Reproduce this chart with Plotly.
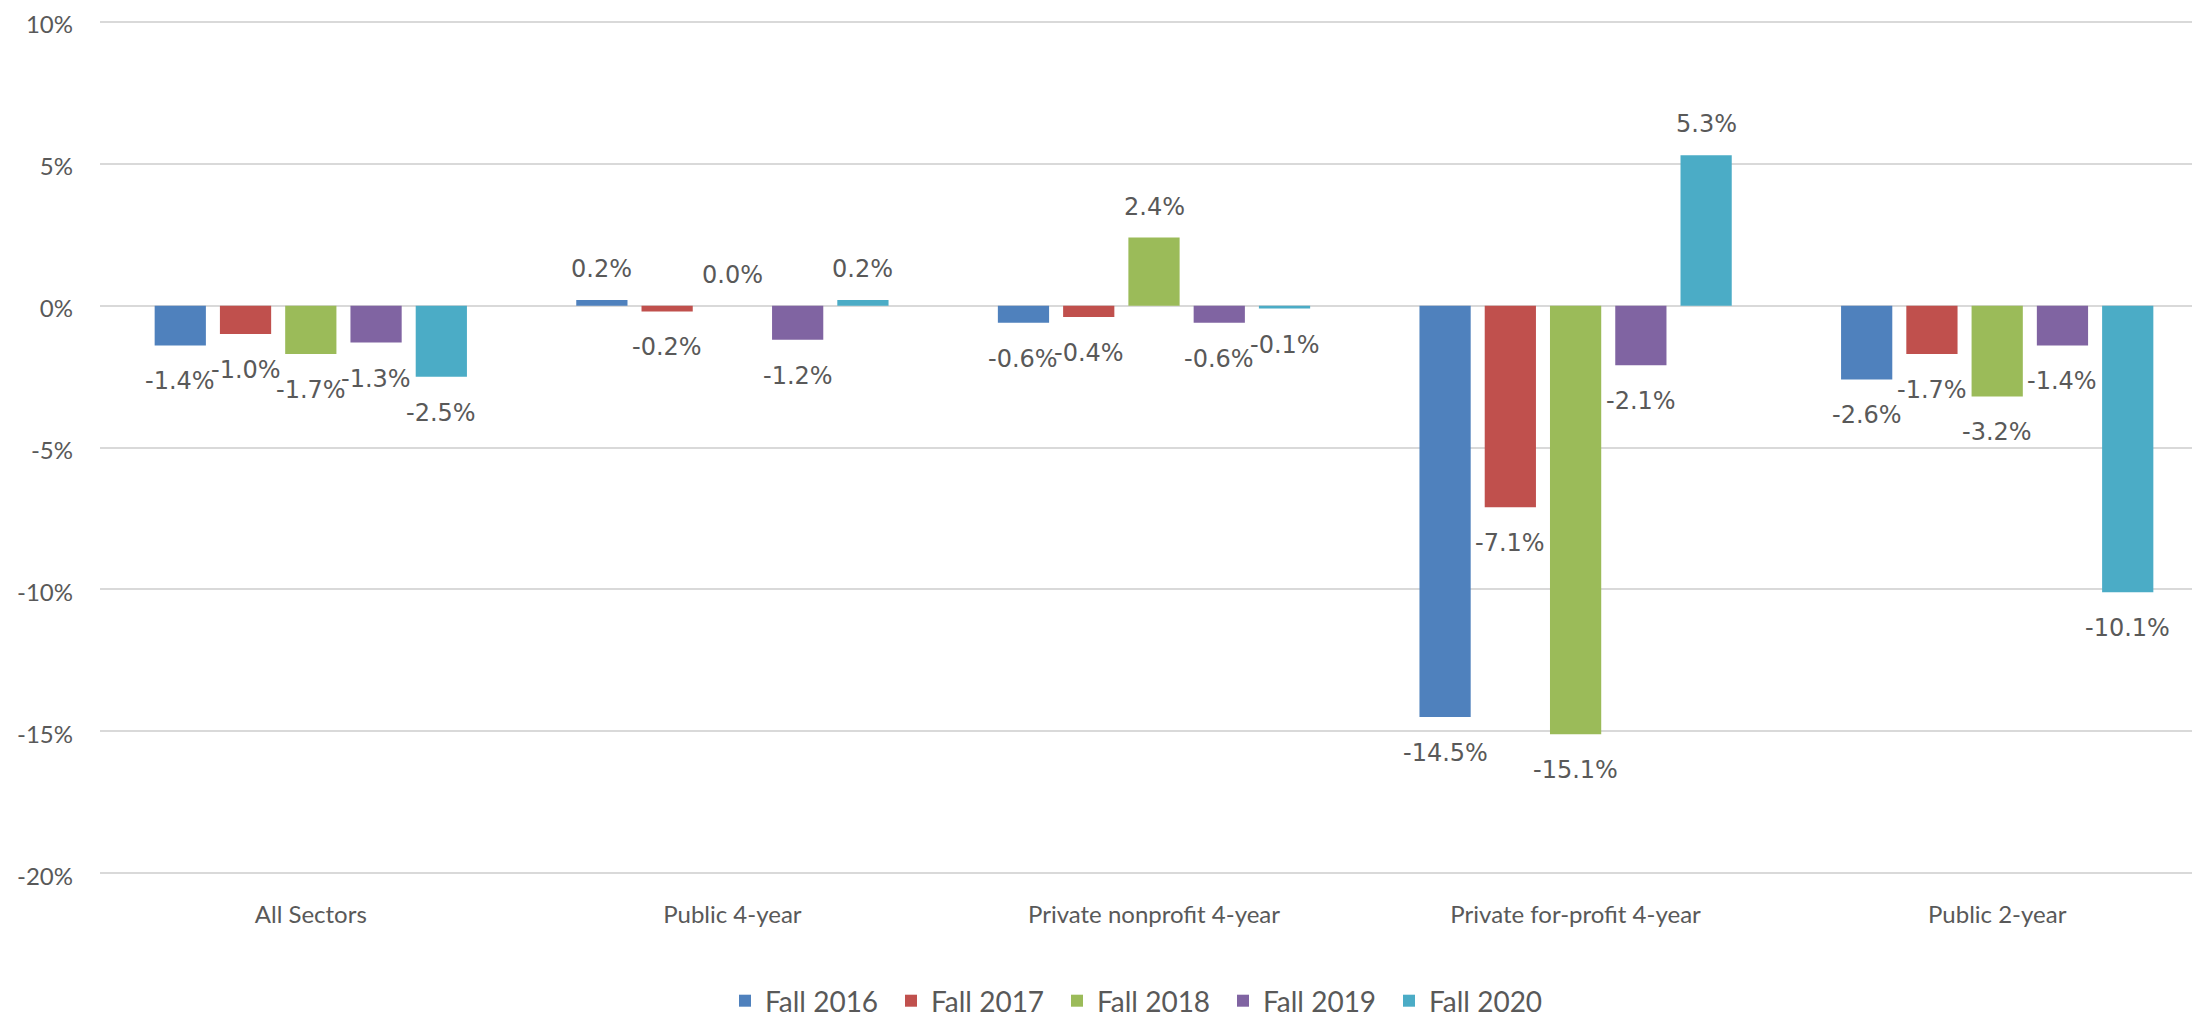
import plotly.graph_objects as go

sectors = ["All Sectors", "Public 4-year", "Private nonprofit 4-year",
           "Private for-profit 4-year", "Public 2-year"]
years = ["Fall 2016", "Fall 2017", "Fall 2018", "Fall 2019", "Fall 2020"]

fall_2016 = [-1.4, 0.2, -0.6, -14.5, -2.6]
fall_2017 = [-1.0, -0.2, -0.4, -7.1, -1.7]
fall_2018 = [-1.7, 0.0, 2.4, -15.1, -3.2]
fall_2019 = [-1.3, -1.2, -0.6, -2.1, -1.4]
fall_2020 = [-2.5, 0.2, -0.1, 5.3, -10.1]

y_ticks = [-20, -15, -10, -5, 0, 5, 10]
y_tick_labels = ["-20%", "-15%", "-10%", "-5%", "0%", "5%", "10%"]

series = [fall_2016, fall_2017, fall_2018, fall_2019, fall_2020]
colors = ["#4F81BD", "#C0504D", "#9BBB59", "#8064A2", "#4BACC6"]

grey = "#595959"
W, H = 2200, 1018
OFF = 8  # page body margin shifts the figure

# pixel rows of the 10% and -20% gridlines (figure coordinates)
top_px, bot_px = 22 - OFF, 874 - OFF
pad = 0.1
per_unit = (bot_px - top_px) / 30.0
dom_top = top_px - pad * per_unit
dom_bot = bot_px + pad * per_unit

bargap = 0.226
groupgap = 0.215
slot = (1 - bargap) / len(series)

fig = go.Figure()
for name, vals, col in zip(years, series, colors):
    fig.add_trace(
        go.Bar(
            x=sectors,
            y=vals,
            name=name,
            marker=dict(color=col, line=dict(width=0)),
            hoverinfo="skip",
        )
    )

# data labels, Excel style "outside end" with a bit more room than plotly's own
for j, vals in enumerate(series):
    for i, v in enumerate(vals):
        fig.add_annotation(
            x=i + (j - (len(series) - 1) / 2) * slot,
            y=v,
            text=f"{v:.1f}%",
            showarrow=False,
            xanchor="center",
            yanchor="bottom" if v >= 0 else "top",
            yshift=15 if v >= 0 else -20,
            font=dict(family="DejaVu Sans", size=24, color=grey),
        )

fig.update_layout(
    width=W,
    height=H,
    margin=dict(l=0, r=0, t=0, b=0),
    paper_bgcolor="white",
    plot_bgcolor="white",
    barmode="group",
    bargap=bargap,
    bargroupgap=groupgap,
    font=dict(family="Lato", size=24, color=grey),
    showlegend=True,
    legend=dict(
        orientation="h",
        x=(1140 - OFF) / W,
        xanchor="center",
        y=(H - 994) / H,
        yanchor="middle",
        font=dict(family="Lato", size=28, color=grey),
        itemwidth=30,
        entrywidth=121,
        traceorder="normal",
    ),
    xaxis=dict(
        domain=[(100 - OFF) / W, 1],
        automargin=False,
        showgrid=False,
        showline=False,
        ticks="",
        ticklabelstandoff=22,
        tickfont=dict(family="Lato", size=24, color=grey),
    ),
    yaxis=dict(
        domain=[(H - dom_bot) / H, (H - dom_top) / H],
        automargin=False,
        range=[-20 - pad, 10 + pad],
        tickmode="array",
        tickvals=y_ticks,
        ticktext=y_tick_labels,
        ticklabeloverflow="allow",
        ticklabelshift=3,
        showgrid=True,
        gridcolor="#D9D9D9",
        gridwidth=2,
        zeroline=True,
        zerolinecolor="#D9D9D9",
        zerolinewidth=2,
        ticks="",
        ticklabelstandoff=26,
        tickfont=dict(family="Lato", size=24, color=grey),
    ),
)

fig.write_html("out.html")
